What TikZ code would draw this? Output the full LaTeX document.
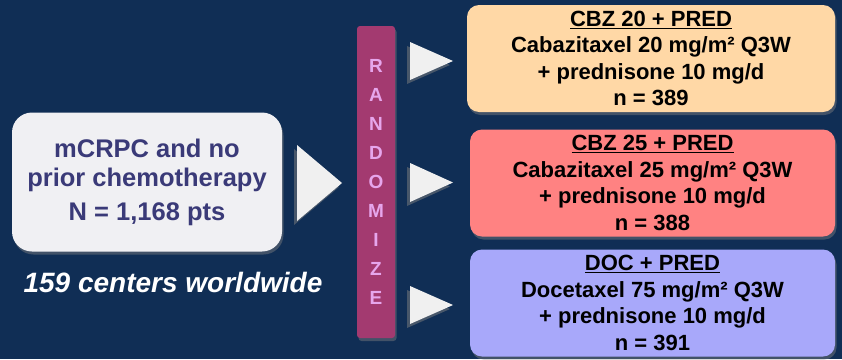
\documentclass[tikz,border=0pt]{standalone}
\usepackage{fontspec}
\setmainfont{Liberation Sans}
\usetikzlibrary{shapes.geometric, shadows, positioning}

\definecolor{navy}{HTML}{102E55}
\definecolor{popfill}{HTML}{F0F0F3}
\definecolor{poptext}{HTML}{3A3A78}
\definecolor{randfill}{HTML}{A33A70}
\definecolor{randtext}{HTML}{E6A6EC}
\definecolor{armA}{HTML}{FFD8A6}
\definecolor{armB}{HTML}{FF8282}
\definecolor{armC}{HTML}{A8A8FA}

\begin{document}
\begin{tikzpicture}[
    x = 1pt, y = -1pt, % pixel grid, y down
    font = \bfseries,
    shade/.style = {drop shadow = {opacity = 0.45, shadow xshift = 1.5pt, shadow yshift = -3pt}},
    popbox/.style = {rectangle, rounded corners = 20pt, fill = popfill, shade,
      minimum width = 270pt, minimum height = 139pt, align = center,
      text = poptext, font = \bfseries\fontsize{25.5}{29}\selectfont},
    armbox/.style = {rectangle, rounded corners = 12pt, shade,
      minimum height = 107pt, align = center, inner sep = 0pt,
      font = \bfseries\fontsize{22}{26.5}\selectfont},
    pointer/.style = {fill = white!94!black,
      drop shadow = {opacity = 0.5, shadow xshift = -3pt, shadow yshift = -4pt}}
  ]

  % background and page size
  \fill[navy] (0,0) rectangle (842,359);
  \useasboundingbox (0,0) rectangle (842,359);

  % population
  \node[popbox] (pop) at (147,182) {mCRPC and no\\prior chemotherapy\\[5pt]N = 1,168 pts};
  \node[text = white, font = \bfseries\itshape\fontsize{28}{30}\selectfont]
    (sites) at (173,282) {159 centers worldwide};
  \fill[pointer] (297,145) -- (342,183) -- (297,221) -- cycle;

  % randomisation bar
  \node[rectangle, rounded corners = 3pt, fill = randfill, shade,
    minimum width = 38pt, minimum height = 312pt, inner sep = 0pt,
    align = center, text = randtext, font = \bfseries\fontsize{19}{29}\selectfont]
    (rand) at (376,182) {R\\A\\N\\D\\O\\M\\I\\Z\\E};

  % arms
  \node[armbox, fill = armA, minimum width = 368pt] (arm1) at (651,58.5)
    {\underline{CBZ 20 + PRED}\\Cabazitaxel 20 mg/m² Q3W\\+ prednisone 10 mg/d\\n = 389};
  \node[armbox, fill = armB, minimum width = 365pt] (arm2) at (652.5,183)
    {\underline{CBZ 25 + PRED}\\Cabazitaxel 25 mg/m² Q3W\\+ prednisone 10 mg/d\\n = 388};
  \node[armbox, fill = armC, minimum width = 365pt] (arm3) at (652.5,303)
    {\underline{DOC + PRED}\\Docetaxel 75 mg/m² Q3W\\+ prednisone 10 mg/d\\n = 391};

  \fill[pointer] (410,42) -- (453,61) -- (410,80) -- cycle;
  \fill[pointer] (410,163) -- (453,182.5) -- (410,202) -- cycle;
  \fill[pointer] (410,286) -- (453,305) -- (410,324) -- cycle;
\end{tikzpicture}
\end{document}
